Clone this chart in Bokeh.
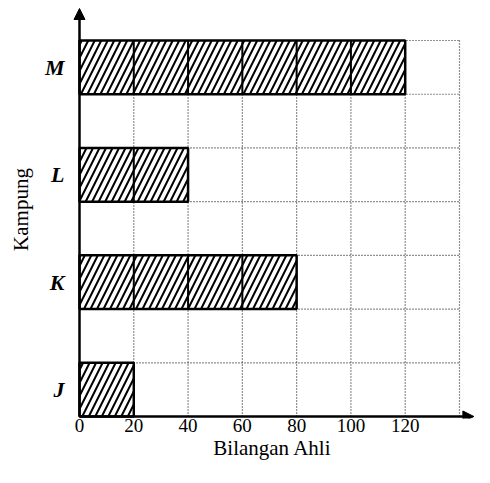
from bokeh.plotting import figure
from bokeh.models import Range1d, FixedTicker, Arrow, NormalHead
from bokeh.embed import file_html
from bokeh.resources import INLINE

# data
categories = ["J", "K", "L", "M"]
values = [20, 80, 40, 120]
x_ticks = [0, 20, 40, 60, 80, 100, 120]
grid_x = [20, 40, 60, 80, 100, 120, 140]
grid_y = [1, 2, 3, 4, 5, 6, 7]

y_pos = [0.5 + 2 * i for i in range(len(categories))]

p = figure(width=474, height=467, output_backend="svg", toolbar_location=None,
           x_range=Range1d(-3.316, 145.53), y_range=Range1d(-0.037, 7.745),
           min_border_left=70, min_border_right=0, min_border_top=0,
           min_border_bottom=49)
p.outline_line_color = None
p.grid.visible = False
p.background_fill_color = "white"

# dotted grid
x_max = grid_x[-1]
y_max = grid_y[-1]
p.segment(x0=grid_x, y0=[0] * len(grid_x), x1=grid_x, y1=[y_max] * len(grid_x),
          line_color="#222222", line_width=1.2, line_dash="1 2")
p.segment(x0=[0] * len(grid_y), y0=grid_y, x1=[x_max] * len(grid_y), y1=grid_y,
          line_color="#222222", line_width=1.2, line_dash="1 2")

# hatched bars
p.hbar(y=y_pos, height=1, left=0, right=values, fill_color="white",
       line_color="black", line_width=2.5, hatch_pattern="/",
       hatch_color="black", hatch_scale=13, hatch_weight=2)

# cell dividers inside bars
dx0, dy0, dx1, dy1 = [], [], [], []
for yc, v in zip(y_pos, values):
    for gx in grid_x:
        if gx < v:
            dx0.append(gx); dx1.append(gx)
            dy0.append(yc - 0.5); dy1.append(yc + 0.5)
p.segment(x0=dx0, y0=dy0, x1=dx1, y1=dy1, line_color="black", line_width=2)

# axes with arrows
p.add_layout(Arrow(end=NormalHead(size=11, fill_color="black", line_color="black"),
                   x_start=0, y_start=0, x_end=145.3, y_end=0,
                   line_color="black", line_width=2.5))
p.add_layout(Arrow(end=NormalHead(size=11, fill_color="black", line_color="black"),
                   x_start=0, y_start=0, x_end=0, y_end=7.596,
                   line_color="black", line_width=2.5))

for ax in (p.xaxis, p.yaxis):
    ax.axis_line_color = None
    ax.major_tick_line_color = None
    ax.minor_tick_line_color = None
    ax.major_tick_out = 0
    ax.major_tick_in = 0
    ax.major_label_text_color = "black"
    ax.axis_label_text_color = "black"
    ax.axis_label_text_font = "Liberation Serif"
    ax.axis_label_text_font_style = "normal"
    ax.axis_label_text_font_size = "21px"

p.xaxis.ticker = FixedTicker(ticks=x_ticks)
p.xaxis.major_label_text_font = "Liberation Serif"
p.xaxis.major_label_text_font_size = "19px"
p.xaxis.major_label_standoff = 0
p.xaxis.axis_label = "Bilangan Ahli"
p.xaxis.axis_label_standoff = 1

p.yaxis.ticker = FixedTicker(ticks=y_pos)
p.yaxis.major_label_overrides = {y: c for y, c in zip(y_pos, categories)}
p.yaxis.major_label_text_font = "Liberation Serif"
p.yaxis.major_label_text_font_style = "bold italic"
p.yaxis.major_label_text_font_size = "22px"
p.yaxis.major_label_standoff = 6
p.yaxis.axis_label = "Kampung"
p.yaxis.axis_label_standoff = 9

open("out.html", "w").write(file_html(p, INLINE))
